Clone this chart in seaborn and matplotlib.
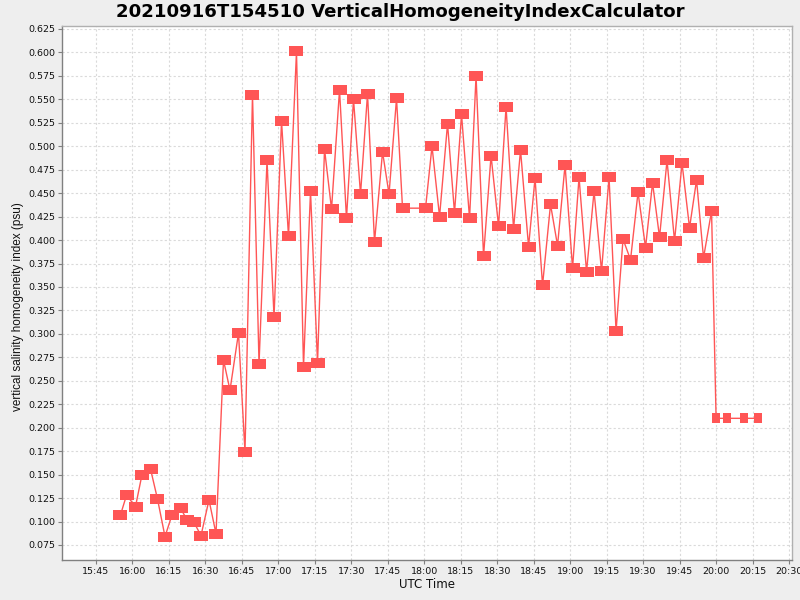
import matplotlib
matplotlib.use("Agg")
import matplotlib.dates as mdates
import matplotlib.pyplot as plt
import numpy as np
import pandas as pd
import seaborn as sns

day = "2021-09-16"
times = [
    "15:55:11", "15:57:40", "16:01:22", "16:04:02", "16:07:32", "16:10:24", "16:13:29", "16:16:22",
    "16:19:52", "16:22:32", "16:25:25", "16:28:17", "16:31:34", "16:34:27", "16:37:32", "16:40:12",
    "16:43:42", "16:46:22", "16:49:27", "16:52:08", "16:55:25", "16:58:18", "17:01:23", "17:04:15",
    "17:07:32", "17:10:25", "17:13:18", "17:16:11", "17:19:03", "17:21:56", "17:25:13", "17:28:05",
    "17:30:58", "17:33:51", "17:36:44", "17:39:36", "17:42:54", "17:45:34", "17:48:39", "17:51:07",
    "18:00:34", "18:03:14", "18:06:20", "18:09:37", "18:12:29", "18:15:22", "18:18:40", "18:21:20",
    "18:24:25", "18:27:30", "18:30:35", "18:33:40", "18:36:45", "18:39:37", "18:42:55", "18:45:35",
    "18:48:40", "18:51:57", "18:54:50", "18:57:55", "19:01:00", "19:03:40", "19:06:45", "19:09:50",
    "19:12:55", "19:16:00", "19:18:53", "19:21:45", "19:24:50", "19:27:55", "19:31:00", "19:33:53",
    "19:36:45", "19:39:50", "19:42:55", "19:46:00", "19:49:05", "19:51:58", "19:54:50", "19:58:08",
    "20:00:00", "20:04:18", "20:11:18", "20:17:14",
]
index_values = [
    0.107, 0.128, 0.116, 0.150, 0.156, 0.124, 0.084, 0.107,
    0.114, 0.102, 0.099, 0.085, 0.123, 0.087, 0.272, 0.240,
    0.301, 0.174, 0.555, 0.268, 0.485, 0.318, 0.527, 0.404,
    0.601, 0.265, 0.452, 0.269, 0.497, 0.433, 0.560, 0.423,
    0.550, 0.449, 0.556, 0.398, 0.494, 0.449, 0.551, 0.434,
    0.434, 0.500, 0.425, 0.524, 0.429, 0.534, 0.423, 0.575,
    0.383, 0.490, 0.415, 0.542, 0.412, 0.496, 0.393, 0.466,
    0.352, 0.438, 0.394, 0.480, 0.370, 0.467, 0.366, 0.452,
    0.367, 0.467, 0.303, 0.401, 0.379, 0.451, 0.392, 0.461,
    0.403, 0.485, 0.399, 0.482, 0.413, 0.464, 0.381, 0.431,
    0.210, 0.210, 0.210, 0.210,
]
title = "20210916T154510 VerticalHomogeneityIndexCalculator"

df = pd.DataFrame({
    "time": pd.to_datetime([f"{day} {t}" for t in times]),
    "hi": index_values,
})
# the last few samples are drawn with a smaller marker
main = df.iloc[:-4]
tail = df.iloc[-4:]

sns.set_style("whitegrid")
plt.rcParams["font.family"] = ["DejaVu Sans"]
plt.rcParams["text.color"] = "black"

red = "#FF5555"
wide_rect = [(-7, -4.5), (7, -4.5), (7, 4.5), (-7, 4.5), (-7, -4.5)]
small_rect = [(-4, -4.5), (4, -4.5), (4, 4.5), (-4, 4.5), (-4, -4.5)]

fig = plt.figure(figsize=(8, 6), dpi=100, facecolor="#EEEEEE")
ax = fig.add_axes([0.0775, 0.0667, 0.9125, 0.89])
ax.set_facecolor("white")

sns.lineplot(data=df, x="time", y="hi", ax=ax, color=red, lw=1.0, zorder=2, estimator=None, sort=False)
ax.plot(main["time"], main["hi"], ls="none", marker=wide_rect, markersize=10.3,
        markerfacecolor=red, markeredgewidth=0, zorder=3)
ax.plot(tail["time"], tail["hi"], ls="none", marker=small_rect, markersize=6.5,
        markerfacecolor=red, markeredgewidth=0, zorder=3)

ax.set_xlim(pd.Timestamp(f"{day} 15:31:09"), pd.Timestamp(f"{day} 20:31:12"))
ax.set_ylim(0.059, 0.6282)
ax.set_yticks(np.arange(0.075, 0.6251, 0.025))
ax.yaxis.set_major_formatter(matplotlib.ticker.FormatStrFormatter("%.3f"))
ax.xaxis.set_major_locator(mdates.MinuteLocator(byminute=[0, 15, 30, 45]))
ax.xaxis.set_major_formatter(mdates.DateFormatter("%H:%M"))

ax.grid(True, color="#dadada", linestyle=(0, (2, 2)), lw=0.8)
ax.tick_params(axis="both", length=3, width=0.8, color="#808080", labelsize=6.8, pad=2,
               labelcolor="#111111", bottom=True, left=True)
for side in ["left", "bottom"]:
    ax.spines[side].set_color("#808080")
    ax.spines[side].set_linewidth(1.0)
for side in ["top", "right"]:
    ax.spines[side].set_color("#b0b0b0")
    ax.spines[side].set_linewidth(1.0)
ax.set_xlabel("")
ax.set_ylabel("")

fig.text(0.5, 0.98, title, ha="center", va="center", fontsize=13.1, fontweight="bold", color="black")
fig.text(427 / 800, 1 - 585 / 600, "UTC Time", ha="center", va="center", fontsize=8.5, color="#111111")
fig.text(18 / 800, 1 - 307 / 600, "vertical salinity homogeneity index (psu)", ha="center",
         va="center", rotation=90, fontsize=8.5, color="#111111",
         family=["Liberation Sans Narrow", "Liberation Sans", "DejaVu Sans"])

fig.savefig("out.png", dpi=100, facecolor=fig.get_facecolor())
